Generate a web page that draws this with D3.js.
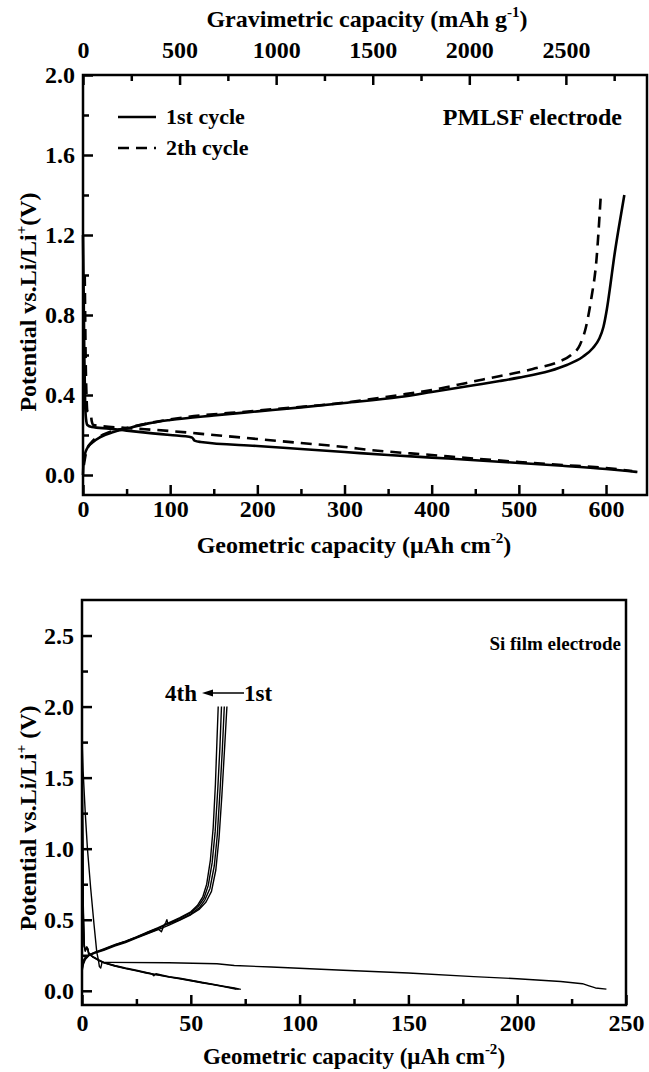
<!DOCTYPE html>
<html>
<head>
<meta charset="utf-8">
<script src="https://cdn.jsdelivr.net/npm/d3@7"></script>
<style>
  body { margin: 0; background: #fff; }
  svg { display: block; }
  text { font-family: "Liberation Serif", "Times New Roman", serif; font-weight: bold; fill: #000; }
</style>
</head>
<body>
<svg width="649" height="1072"></svg>
<script>
// ---- top panel: PMLSF electrode, [geometric capacity, potential] ----
const pmlsfDischarge1 = [[0,1.2],[0.8,0.9],[1.5,0.6],[2.5,0.35],[3.5,0.28],[5,0.25],[10,0.24],[30,0.232],[50,0.222],[80,0.208],[100,0.2],[125,0.188],[128,0.172],[135,0.165],[200,0.145],[250,0.13],[300,0.115],[350,0.1],[400,0.087],[450,0.074],[500,0.06],[550,0.046],[600,0.03],[625,0.02],[636,0.015]];
const pmlsfCharge1 = [[0,0.0],[0.5,0.05],[2,0.1],[5,0.135],[10,0.16],[20,0.19],[35,0.215],[50,0.232],[75,0.258],[100,0.275],[150,0.298],[200,0.318],[250,0.338],[300,0.36],[363,0.39],[400,0.415],[450,0.45],[478,0.47],[500,0.487],[535,0.52],[555,0.55],[573,0.59],[585,0.635],[592,0.68],[597,0.74],[601,0.83],[605,0.95],[609,1.08],[614,1.22],[621,1.4]];
const pmlsfDischarge2 = [[2,1.0],[2.5,0.8],[3,0.6],[4,0.4],[5,0.32],[7,0.31],[9,0.3],[10,0.27],[12,0.25],[20,0.245],[50,0.235],[100,0.22],[150,0.2],[200,0.18],[250,0.16],[300,0.14],[330,0.125],[400,0.1],[450,0.082],[500,0.065],[550,0.05],[600,0.035],[630,0.02]];
const pmlsfCharge2 = [[1,0.05],[4,0.12],[10,0.165],[25,0.205],[50,0.235],[100,0.278],[200,0.322],[300,0.362],[363,0.4],[400,0.425],[459,0.478],[516,0.53],[545,0.565],[560,0.6],[570,0.65],[577,0.74],[583,0.88],[589,1.075],[594,1.4]];

const geoTicksTop = [0,100,200,300,400,500,600];
const geoMinorTop = [50,150,250,350,450,550];
const gravTicks = [0,500,1000,1500,2000,2500];
const gravMinor = [250,750,1250,1750,2250,2750];
const voltTicksTop = [0.0,0.4,0.8,1.2,1.6,2.0];
const voltMinorTop = [0.2,0.6,1.0,1.4,1.8];
const legendLabels = ["1st cycle", "2th cycle"];

// ---- bottom panel: Si film electrode ----
const siDischarge1 = [[0,1.78],[0.5,1.55],[1.5,1.25],[2.5,1.0],[4,0.72],[5.5,0.47],[6.8,0.27],[7.5,0.22],[8,0.17],[8.6,0.16],[9.2,0.2],[12,0.2],[40,0.197],[62,0.19],[70,0.178],[87,0.167],[120,0.145],[150,0.125],[180,0.1],[200,0.085],[220,0.065],[230,0.05],[233,0.035],[236,0.02],[241,0.012]];
const siDischarge2 = [[0,1.85],[0.3,1.2],[0.6,0.6],[1,0.33],[1.5,0.28],[2,0.3],[2.6,0.3],[3,0.26],[5,0.24],[8,0.215],[10,0.2],[15,0.178],[20,0.16],[25,0.145],[30,0.128],[32,0.12],[33,0.105],[34,0.12],[40,0.1],[45,0.088],[50,0.075],[55,0.06],[60,0.047],[65,0.033],[70,0.02],[73,0.01]];
const siDischarge3 = [[0,1.8],[0.3,1.1],[0.6,0.55],[1,0.32],[1.5,0.28],[2.2,0.31],[2.8,0.29],[3.2,0.26],[5,0.238],[8,0.212],[10,0.198],[15,0.176],[20,0.158],[25,0.142],[30,0.125],[35,0.112],[40,0.098],[45,0.086],[50,0.072],[55,0.058],[60,0.045],[65,0.031],[70,0.017],[72,0.01]];
const siDischarge4 = [[0,1.75],[0.3,1.0],[0.6,0.5],[1,0.31],[1.6,0.29],[2.4,0.3],[3,0.27],[5,0.236],[8,0.21],[10,0.196],[15,0.174],[20,0.156],[25,0.14],[30,0.123],[35,0.11],[40,0.096],[45,0.084],[50,0.07],[55,0.056],[60,0.043],[65,0.029],[70,0.014],[71,0.01]];
const siCharge1 = [[0,0.13],[0.5,0.18],[1.5,0.22],[3,0.245],[6,0.265],[10,0.285],[15,0.315],[20,0.34],[25,0.37],[30,0.4],[35,0.43],[40,0.462],[45,0.497],[50,0.535],[54,0.575],[57,0.625],[59.5,0.7],[61.5,0.85],[63,1.08],[64.3,1.38],[65.5,1.7],[66.6,2.0]];
const siCharge2 = [[0,0.14],[0.5,0.19],[1.5,0.225],[3,0.248],[6,0.268],[10,0.29],[15,0.32],[20,0.345],[25,0.375],[30,0.405],[35,0.435],[36.5,0.415],[37.5,0.455],[38.5,0.48],[39,0.5],[39.5,0.47],[45,0.5],[50,0.54],[54,0.585],[56.5,0.64],[58.8,0.72],[60.8,0.88],[62.2,1.1],[63.4,1.4],[64.5,1.7],[65.4,2.0]];
const siCharge3 = [[0,0.15],[0.5,0.2],[1.5,0.23],[3,0.25],[6,0.27],[10,0.292],[15,0.322],[20,0.348],[25,0.378],[30,0.41],[35,0.44],[40,0.475],[45,0.51],[50,0.55],[53.5,0.595],[56,0.65],[58,0.74],[59.8,0.9],[61.2,1.12],[62.4,1.42],[63.4,1.72],[64.1,2.0]];
const siCharge4 = [[0,0.16],[0.5,0.21],[1.5,0.235],[3,0.252],[6,0.272],[10,0.295],[15,0.325],[20,0.35],[25,0.38],[30,0.413],[35,0.445],[40,0.48],[45,0.515],[50,0.556],[53,0.6],[55.5,0.66],[57.3,0.75],[59,0.92],[60.3,1.15],[61.3,1.45],[62,1.75],[62.6,2.0]];

const geoTicksBot = [0,50,100,150,200,250];
const geoMinorBot = [25,75,125,175,225];
const voltTicksBot = [0.0,0.5,1.0,1.5,2.0,2.5];
const voltMinorBot = [0.25,0.75,1.25,1.75,2.25];

const svg = d3.select("svg");
const FS = 24;

// scales
const xTop = d3.scaleLinear().domain([0, 647]).range([83, 647]);
const gTop = d3.scaleLinear().domain([0, 2920]).range([83, 647]);
const yTop = d3.scaleLinear().domain([-0.1, 2.0]).range([495, 75]);

const xBot = d3.scaleLinear().domain([0, 250]).range([82, 626]);
const yBot = d3.scaleLinear().domain([-0.1, 2.75]).range([1005, 600]);

// draws box, ticks (inward) and labels for one panel
function frame(x, y, opt) {
  const g = svg.append("g");
  const [x0, x1] = x.range();
  const [y0, y1] = y.range();

  // bottom
  g.append("g").attr("transform", `translate(0,${y0})`)
    .call(d3.axisBottom(x).tickValues(opt.xMinor).tickSize(-6).tickFormat(""));
  g.append("g").attr("transform", `translate(0,${y0})`)
    .call(d3.axisBottom(x).tickValues(opt.xTicks).tickSize(-10).tickPadding(opt.xPad).tickFormat(d3.format("d")));
  // left
  g.append("g").attr("transform", `translate(${x0},0)`)
    .call(d3.axisLeft(y).tickValues(opt.yMinor).tickSize(-6).tickFormat(""));
  g.append("g").attr("transform", `translate(${x0},0)`)
    .call(d3.axisLeft(y).tickValues(opt.yTicks).tickSize(-10).tickPadding(8).tickFormat(d3.format(".1f")));

  g.selectAll(".domain").remove();
  g.selectAll(".tick line").attr("stroke", "#000").attr("stroke-width", 2.5);
  g.selectAll(".tick text").style("font-size", FS + "px").attr("fill", "#000");

  g.append("rect")
    .attr("x", x0).attr("y", y1)
    .attr("width", x1 - x0).attr("height", y0 - y1)
    .attr("fill", "none").attr("stroke", "#000").attr("stroke-width", 2.5);
  return g;
}

// ---------- top panel ----------
frame(xTop, yTop, {
  xTicks: geoTicksTop, xMinor: geoMinorTop, xPad: 5,
  yTicks: voltTicksTop, yMinor: voltMinorTop
});

// gravimetric axis on top
const topAx = svg.append("g");
topAx.append("g").attr("transform", "translate(0,75)")
  .call(d3.axisTop(gTop).tickValues(gravMinor).tickSize(-6).tickFormat(""));
topAx.append("g").attr("transform", "translate(0,75)")
  .call(d3.axisTop(gTop).tickValues(gravTicks).tickSize(-10).tickPadding(17).tickFormat(d3.format("d")));
topAx.selectAll(".domain").remove();
topAx.selectAll(".tick line").attr("stroke", "#000").attr("stroke-width", 2.5);
topAx.selectAll(".tick text").style("font-size", FS + "px").attr("fill", "#000");

const lineTop = d3.line().x(d => xTop(d[0])).y(d => yTop(d[1])).curve(d3.curveMonotoneX);

[pmlsfDischarge1, pmlsfCharge1].forEach(s => {
  svg.append("path").datum(s).attr("d", lineTop)
    .attr("fill", "none").attr("stroke", "#000").attr("stroke-width", 2.6)
    .attr("stroke-linejoin", "round");
});
[pmlsfDischarge2, pmlsfCharge2].forEach(s => {
  svg.append("path").datum(s).attr("d", lineTop)
    .attr("fill", "none").attr("stroke", "#000").attr("stroke-width", 2.6)
    .attr("stroke-dasharray", "11,7");
});

// titles
const gravTitle = svg.append("text").attr("x", 367).attr("y", 27)
  .attr("text-anchor", "middle").style("font-size", FS + "px");
gravTitle.append("tspan").text("Gravimetric capacity (mAh g");
gravTitle.append("tspan").text("-1").style("font-size", "15px").attr("dy", -10);
gravTitle.append("tspan").text(")").attr("dy", 10);

function geoTitle(y, fs) {
  const t = svg.append("text").attr("x", 354).attr("y", y)
    .attr("text-anchor", "middle").style("font-size", fs + "px");
  t.append("tspan").text("Geometric capacity (\u03bcAh cm");
  t.append("tspan").text("-2").style("font-size", "15px").attr("dy", -10);
  t.append("tspan").text(")").attr("dy", 10);
}
geoTitle(553, 24);
geoTitle(1064, 23);

function voltTitle(cy, sep) {
  const t = svg.append("text")
    .attr("transform", `translate(36,${cy}) rotate(-90)`)
    .attr("text-anchor", "middle").style("font-size", FS + "px");
  t.append("tspan").text("Potential vs.Li/Li");
  t.append("tspan").text("+").style("font-size", "15px").attr("dy", -10);
  t.append("tspan").text(sep + "(V)").attr("dy", 10);
}
voltTitle(302, "");
voltTitle(818, " ");

// legend
const leg = svg.append("g");
legendLabels.forEach((lab, i) => {
  const yy = 117 + i * 31;
  leg.append("line").attr("x1", 118).attr("x2", 156).attr("y1", yy).attr("y2", yy)
    .attr("stroke", "#000").attr("stroke-width", 2.6)
    .attr("stroke-dasharray", i === 1 ? "11,7" : null);
  leg.append("text").attr("x", 166).attr("y", yy + 7).style("font-size", "22px").text(lab);
});
svg.append("text").attr("x", 622).attr("y", 125).attr("text-anchor", "end")
  .style("font-size", "24px").text("PMLSF electrode");

// ---------- bottom panel ----------
frame(xBot, yBot, {
  xTicks: geoTicksBot, xMinor: geoMinorBot, xPad: 9,
  yTicks: voltTicksBot, yMinor: voltMinorBot
});

const lineBot = d3.line().x(d => xBot(d[0])).y(d => yBot(d[1]));
[siDischarge1, siDischarge2, siDischarge3, siDischarge4, siCharge1, siCharge2, siCharge3, siCharge4].forEach(s => {
  svg.append("path").datum(s).attr("d", lineBot)
    .attr("fill", "none").attr("stroke", "#000").attr("stroke-width", 1.4)
    .attr("stroke-linejoin", "round");
});

svg.append("text").attr("x", 621).attr("y", 650).attr("text-anchor", "end")
  .style("font-size", "19px").text("Si film electrode");

// cycle arrow annotation
svg.append("text").attr("x", 165).attr("y", 701).style("font-size", "23px").text("4th");
svg.append("text").attr("x", 244).attr("y", 701).style("font-size", "23px").text("1st");
svg.append("line").attr("x1", 244).attr("x2", 210).attr("y1", 693).attr("y2", 693)
  .attr("stroke", "#000").attr("stroke-width", 1.6);
svg.append("path").attr("d", "M202,693 L213,689.5 L213,696.5 Z").attr("fill", "#000");
</script>
</body>
</html>
